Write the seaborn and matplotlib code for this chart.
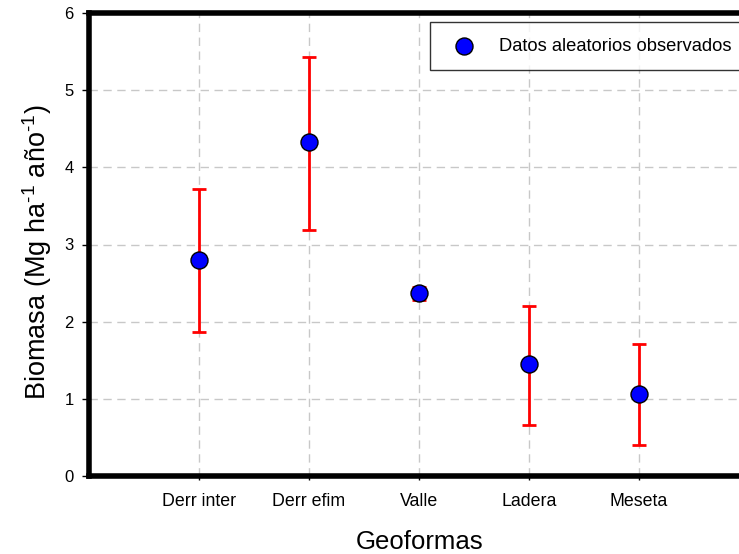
import matplotlib
matplotlib.use("Agg")
import matplotlib.pyplot as plt
import seaborn as sns
import pandas as pd
import numpy as np

# Landform categories and observed biomass (Mg ha-1 yr-1)
geoformas = ["Derr inter", "Derr efim", "Valle", "Ladera", "Meseta"]
biomasa = [2.80, 4.33, 2.37, 1.45, 1.06]
limite_sup = [3.72, 5.43, 2.45, 2.20, 1.71]
limite_inf = [1.87, 3.19, 2.28, 0.66, 0.40]
yticks = [0, 1, 2, 3, 4, 5, 6]

sns.set_theme(style="white")
plt.rcParams["font.family"] = ["Liberation Sans", "DejaVu Sans"]
plt.rcParams["mathtext.fontset"] = "custom"
plt.rcParams["mathtext.rm"] = "Liberation Sans"
plt.rcParams["mathtext.it"] = "Liberation Sans"
plt.rcParams["text.color"] = "black"
plt.rcParams["axes.labelcolor"] = "black"

df = pd.DataFrame({"Geoformas": geoformas, "Biomasa": biomasa})

fig = plt.figure(figsize=(7.39, 5.54), dpi=100)
W, H = 739, 554
ax = fig.add_axes([89 / W, (H - 476) / H, 660 / W, 463 / H])

pos = np.arange(len(geoformas))
err_lo = np.array(biomasa) - np.array(limite_inf)
err_hi = np.array(limite_sup) - np.array(biomasa)
ax.errorbar(pos, biomasa, yerr=[err_lo, err_hi], fmt="none", ecolor="#ff0000",
            elinewidth=2.0, capsize=5, capthick=2.0, zorder=3)

sns.scatterplot(data=df, x="Geoformas", y="Biomasa", ax=ax, s=150,
                color="#0000ff", edgecolor="black", linewidth=1.0,
                label="Datos aleatorios observados", zorder=4)

ax.set_xlim(-1, 5)
ax.set_ylim(0, 6)
ax.set_yticks(yticks)
ax.set_xticks(pos)
ax.set_xticklabels(geoformas)

ax.grid(True, color="#c8c8c8", linestyle=(0, (6, 4)), linewidth=1.0)
ax.set_axisbelow(True)

for side in ["left", "bottom", "top"]:
    ax.spines[side].set_visible(True)
    ax.spines[side].set_linewidth(4.0)
    ax.spines[side].set_color("black")
ax.spines["right"].set_visible(False)

ax.tick_params(axis="y", direction="out", length=5, width=1, labelsize=12,
               left=True, pad=6, colors="black")
ax.tick_params(axis="x", direction="out", length=3, width=1, labelsize=12.8,
               bottom=True, pad=9, colors="black")

ax.set_xlabel("Geoformas", fontsize=18.5)
ax.set_ylabel(r"Biomasa (Mg ha$^{\text{-1}}$ año$^{\text{-1}}$)", fontsize=19.5)
ax.xaxis.set_label_coords(0.5 + 1 / 660, -(542 - 476) / 463)
ax.yaxis.set_label_coords(-(89 - 37) / 660, (476 - 252) / 463)
ax.xaxis.label.set_va("center")
ax.yaxis.label.set_va("center")

leg_x0 = (430 - 89) / 660
leg_y1 = (476 - 22) / 463
leg_y0 = (476 - 71) / 463
leg = ax.legend(loc="upper left",
                bbox_to_anchor=(leg_x0, leg_y0, 1.03 - leg_x0, leg_y1 - leg_y0),
                mode="expand", frameon=True, fancybox=False, shadow=False,
                fontsize=13.2, borderpad=0.85, handletextpad=0.9,
                borderaxespad=0, handlelength=2.0)
leg.get_frame().set_edgecolor("black")
leg.get_frame().set_linewidth(1.0)

fig.savefig("out.png", dpi=100)
